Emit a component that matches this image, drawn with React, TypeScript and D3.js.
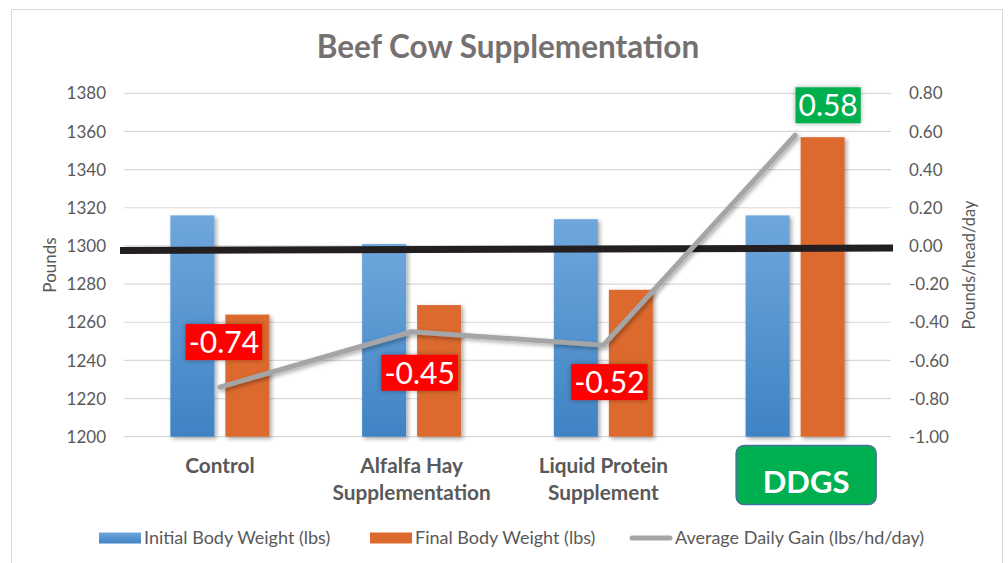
import React, { useEffect, useRef } from "react";
import * as d3 from "d3";

const categories = ["Control", "Alfalfa Hay\nSupplementation", "Liquid Protein\nSupplement", "DDGS"];
const initialWeight = [1316, 1301, 1314, 1316];
const finalWeight = [1264, 1269, 1277, 1357];
const avgDailyGain = [-0.74, -0.45, -0.52, 0.58];
const leftTicks = [1200, 1220, 1240, 1260, 1280, 1300, 1320, 1340, 1360, 1380];
const rightTicks = [-1.0, -0.8, -0.6, -0.4, -0.2, 0.0, 0.2, 0.4, 0.6, 0.8];
const seriesNames = ["Initial Body Weight (lbs)", "Final Body Weight (lbs)", "Average Daily Gain (lbs/hd/day)"];
const referenceLine = [1297.6, 1298.9]; // hand-drawn black line, left/right ends in pounds
const labelOffsets = [[4, -45], [8, 41], [6, 37], [33, -30]];

const W = 1008, H = 563;
const plot = { left: 124, right: 891, top: 93.3, bottom: 436.7 };
const FONT = "Lato, 'Open Sans', sans-serif";
const TXT = "#595959";
const fmt2 = (v: number) => d3.format(".2f")(v).replace("\u2212", "-");

export default function App() {
  const ref = useRef<SVGSVGElement>(null);
  useEffect(() => {
    const svg = d3.select(ref.current);
    svg.selectAll("*").remove();
    const defs = svg.append("defs");
    const gb = defs.append("linearGradient").attr("id", "gBlue").attr("x1", 0).attr("y1", 0).attr("x2", 0).attr("y2", 1);
    gb.append("stop").attr("offset", "0%").attr("stop-color", "#6FA7DC");
    gb.append("stop").attr("offset", "100%").attr("stop-color", "#3F83C4");
    const f = defs.append("filter").attr("id", "shadow").attr("x", "-30%").attr("y", "-30%").attr("width", "160%").attr("height", "160%");
    f.append("feDropShadow").attr("dx", 2).attr("dy", 2).attr("stdDeviation", 2).attr("flood-color", "#000").attr("flood-opacity", 0.35);
    const f2 = defs.append("filter").attr("id", "glow").attr("x", "-30%").attr("y", "-30%").attr("width", "160%").attr("height", "160%");
    f2.append("feDropShadow").attr("dx", 0).attr("dy", 0).attr("stdDeviation", 2.5).attr("flood-color", "#000").attr("flood-opacity", 0.35);

    // border
    svg.append("rect").attr("x", 11.5).attr("y", 9.5).attr("width", 991).attr("height", 600)
      .attr("fill", "#fff").attr("stroke", "#D9D9D9").attr("stroke-width", 1);

    const x = d3.scaleBand<string>().domain(categories).range([plot.left, plot.right]).padding(0);
    const xs = d3.scaleBand<string>().domain(["i", "f"]).range([0, x.bandwidth()]).paddingInner(0.2).paddingOuter(0.843);
    const yL = d3.scaleLinear().domain([1200, 1380]).range([plot.bottom, plot.top]);
    const yR = d3.scaleLinear().domain([-1, 0.8]).range([plot.bottom, plot.top]);

    // gridlines
    svg.append("g").selectAll("line").data(leftTicks).join("line")
      .attr("x1", plot.left).attr("x2", plot.right)
      .attr("y1", d => yL(d)).attr("y2", d => yL(d))
      .attr("stroke", "#D9D9D9").attr("stroke-width", 1.2);

    // tick labels
    svg.append("g").selectAll("text").data(leftTicks).join("text")
      .attr("x", 106).attr("y", d => yL(d)).attr("dy", "0.36em").attr("text-anchor", "end")
      .attr("font-family", FONT).attr("font-size", 17).attr("fill", TXT).text(d => d3.format("d")(d));
    svg.append("g").selectAll("text").data(rightTicks).join("text")
      .attr("x", 909).attr("y", d => yR(d)).attr("dy", "0.36em").attr("text-anchor", "start")
      .attr("font-family", FONT).attr("font-size", 17).attr("fill", TXT).text(d => fmt2(d));

    // axis titles
    svg.append("text").attr("transform", `translate(56,${(plot.top + plot.bottom) / 2}) rotate(-90)`)
      .attr("text-anchor", "middle").attr("font-family", FONT).attr("font-size", 17).attr("fill", TXT).text("Pounds");
    svg.append("text").attr("transform", `translate(975,${(plot.top + plot.bottom) / 2}) rotate(-90)`)
      .attr("text-anchor", "middle").attr("font-family", FONT).attr("font-size", 16.5).attr("fill", TXT).text("Pounds/head/day");

    // bars
    const bars = svg.append("g").attr("filter", "url(#shadow)");
    categories.forEach((c, i) => {
      const x0 = x(c)!;
      bars.append("rect").attr("x", x0 + xs("i")!).attr("width", xs.bandwidth())
        .attr("y", yL(initialWeight[i])).attr("height", yL(1200) - yL(initialWeight[i])).attr("fill", "url(#gBlue)");
      bars.append("rect").attr("x", x0 + xs("f")!).attr("width", xs.bandwidth())
        .attr("y", yL(finalWeight[i])).attr("height", yL(1200) - yL(finalWeight[i])).attr("fill", "#DC6A2F");
    });

    // black reference line
    svg.append("line").attr("x1", plot.left - 4).attr("x2", plot.right + 2)
      .attr("y1", yL(referenceLine[0])).attr("y2", yL(referenceLine[1]))
      .attr("stroke", "#231F20").attr("stroke-width", 7);

    // ADG line
    const line = d3.line<number>().x((_, i) => x(categories[i])! + x.bandwidth() / 2).y(d => yR(d));
    svg.append("path").attr("d", line(avgDailyGain)).attr("fill", "none").attr("stroke", "#A5A5A7")
      .attr("stroke-width", 5).attr("stroke-linecap", "round").attr("stroke-linejoin", "round").attr("filter", "url(#shadow)");

    // data labels
    avgDailyGain.forEach((v, i) => {
      const cx = x(categories[i])! + x.bandwidth() / 2 + labelOffsets[i][0];
      const cy = yR(v) + labelOffsets[i][1];
      const g = svg.append("g");
      const r = g.append("rect").attr("fill", v < 0 ? "#FF0000" : "#00B050").attr("filter", "url(#glow)");
      const t = g.append("text").attr("x", cx).attr("y", cy).attr("dy", "0.36em").attr("text-anchor", "middle")
        .attr("font-family", FONT).attr("font-size", 30).attr("fill", "#fff").text(fmt2(v));
      const bb = (t.node() as SVGTextElement).getBBox();
      r.attr("x", cx - bb.width / 2 - 3).attr("width", bb.width + 6).attr("y", cy - 18).attr("height", 36);
    });

    // category labels
    categories.forEach((c, i) => {
      const cx = x(c)! + x.bandwidth() / 2;
      if (i === categories.length - 1) {
        svg.append("rect").attr("x", cx - 59).attr("y", 445.5).attr("width", 140).attr("height", 59).attr("rx", 8)
          .attr("fill", "#00B050").attr("stroke", "#41719C").attr("stroke-width", 1.5);
        svg.append("text").attr("x", cx + 11).attr("y", 482).attr("dy", "0.36em").attr("text-anchor", "middle")
          .attr("font-family", FONT).attr("font-weight", "bold").attr("font-size", 31).attr("fill", "#fff").text(c);
      } else {
        c.split("\n").forEach((ln, k) => {
          svg.append("text").attr("x", cx).attr("y", 466 + k * 27).attr("dy", "0.36em").attr("text-anchor", "middle")
            .attr("font-family", FONT).attr("font-weight", "bold").attr("font-size", 20.8).attr("fill", TXT).text(ln);
        });
      }
    });

    // title
    svg.append("text").attr("x", 508).attr("y", 47).attr("dy", "0.36em").attr("text-anchor", "middle")
      .attr("font-family", FONT).attr("font-weight", "bold").attr("font-size", 31.5).attr("fill", "#767171")
      .text("Beef Cow Supplementation");

    // legend
    const lg = svg.append("g");
    const lx = [99, 370, 630];
    const ly = 538;
    lg.append("rect").attr("x", lx[0]).attr("y", ly - 5.5).attr("width", 42).attr("height", 11).attr("fill", "url(#gBlue)");
    lg.append("rect").attr("x", lx[1]).attr("y", ly - 5.5).attr("width", 42).attr("height", 11).attr("fill", "#DC6A2F");
    lg.append("line").attr("x1", lx[2] + 2).attr("x2", lx[2] + 40).attr("y1", ly).attr("y2", ly)
      .attr("stroke", "#A5A5A7").attr("stroke-width", 5).attr("stroke-linecap", "round");
    seriesNames.forEach((s, i) => {
      lg.append("text").attr("x", lx[i] + 45).attr("y", ly).attr("dy", "0.36em")
        .attr("font-family", FONT).attr("font-size", 18).attr("fill", TXT).text(s);
    });
  }, []);
  return (
    <div style={{ position: "absolute", left: 0, top: 0 }}>
      <svg ref={ref} width={W} height={H} style={{ display: "block" }} />
    </div>
  );
}
